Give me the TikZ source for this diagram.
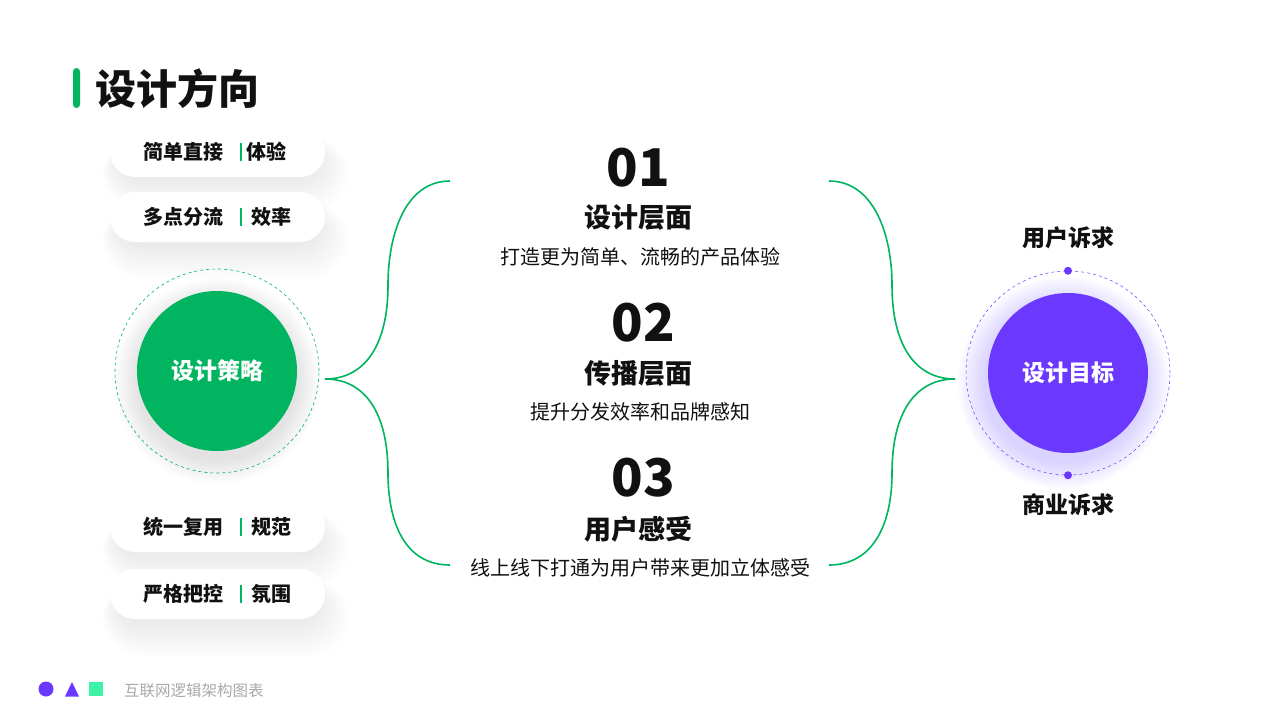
\documentclass[tikz,border=0pt]{standalone}
\usepackage{fontspec}
\setmainfont{Noto Sans CJK SC}
\newfontfamily\heavy{Noto Sans CJK SC Black}
\usetikzlibrary{positioning}
\definecolor{brand}{HTML}{00B460}
\definecolor{violet}{HTML}{6A38FF}
\definecolor{mint}{HTML}{3DF2A6}
\definecolor{ink}{HTML}{111111}
\definecolor{haze}{HTML}{A9C7B8}
\definecolor{footgray}{HTML}{AAAAAA}

\tikzset{
  pill/.style={fill=white,rounded corners=25pt,minimum width=215pt,minimum height=50pt,inner sep=0pt},
  pilltext/.style={font=\bfseries\fontsize{20}{20}\selectfont,text=ink,inner sep=0pt},
  core/.style={circle,minimum size=160pt,inner sep=0pt,text=white,font=\heavy\fontsize{23}{23}\selectfont},
  ring/.style={circle,minimum size=204pt,inner sep=0pt,draw,dashed,line width=.6pt},
  num/.style={font=\heavy\fontsize{52}{52}\selectfont,text=ink,inner sep=0pt},
  head/.style={font=\heavy\fontsize{27}{27}\selectfont,text=ink,inner sep=0pt},
  desc/.style={font=\fontsize{20}{20}\selectfont,text=ink,inner sep=0pt},
  brace/.style={brand,line width=1.6pt},
}

\begin{document}
\begin{tikzpicture}[x=1pt,y=-1pt]
  \useasboundingbox[fill=white] (0,0) rectangle (1280,720);

  % title
  \node[fill=brand,rounded corners=3.5pt,minimum width=7pt,minimum height=40pt,inner sep=0pt] (bar) at (76.5,88) {};
  \node[anchor=west,inner sep=0pt,font=\heavy\fontsize{41}{41}\selectfont,text=ink] (title) at (95,89) {设计方向};

  % soft shadows under the pills
  \foreach \ya/\yb in {134/172,199/238,509/548,576/616}
    \foreach \k in {1,...,20}
      \fill[haze,opacity=.012,rounded corners=24pt+\k*1pt] (118-\k*.8,\ya+6-\k*.2) rectangle (318+\k*1.6,\yb+6+\k*1.8);

  % pills
  \foreach \n/\y/\a/\b/\g in {p1/152/简单直接/体验/5,p2/217/多点分流/效率/10,p3/527/统一复用/规范/10,p4/594/严格把控/氛围/10}{
    \node[pill] (\n) at (217.5,\y) {};
    \node[pilltext] (\n a) at ([xshift=-34.5pt]\n.center) {\a};
    \draw[brand,line width=1.3pt] ([xshift=23.5pt,yshift=-9pt]\n.center) -- ([xshift=23.5pt,yshift=9pt]\n.center);
    \node[pilltext,anchor=west] (\n b) at ([xshift=23.5pt+\g pt]\n.center) {\b};
  }

  % strategy circle
  \foreach \k in {1,...,14}
    \fill[gray,opacity=.016] ([yshift=-10pt]217,371) circle (78+\k*1.8);
  \node[ring,draw=brand] (gring) at (217,371) {};
  \node[core,fill=brand] (gc) at (217,371) {设计策略};

  % goal circle
  \foreach \k in {1,...,14}
    \fill[violet,opacity=.014] ([xshift=-4pt,yshift=-10pt]1068,373) circle (78+\k*2);
  \node[ring,draw=violet,line width=.5pt] (pring) at (1068,373) {};
  \node[core,fill=violet] (pc) at (1068,373) {设计目标};
  \fill[violet] (pring.north) circle (4);
  \fill[violet] (pring.south) circle (4);
  \node[head,font=\heavy\fontsize{23}{23}\selectfont] (up) at (1068,238) {用户诉求};
  \node[head,font=\heavy\fontsize{23}{23}\selectfont] (down) at (1068,505) {商业诉求};

  % middle column
  \node[num] (n1) at (638,168) {01};
  \node[head] (h1) at (638,217) {设计层面};
  \node[desc] (d1) at (640,257) {打造更为简单、流畅的产品体验};
  \node[num] (n2) at (643,323) {02};
  \node[head] (h2) at (638,373) {传播层面};
  \node[desc] (d2) at (640,412) {提升分发效率和品牌感知};
  \node[num] (n3) at (643,478) {03};
  \node[head] (h3) at (638,529) {用户感受};
  \node[desc] (d3) at (640,568) {线上线下打通为用户带来更加立体感受};

  % braces
  \coordinate (lt) at (325,379);
  \coordinate (la) at (450,181);
  \coordinate (lb) at (450,565);
  \coordinate (rt) at (955,379);
  \coordinate (ra) at (829,181);
  \coordinate (rb) at (829,565);
  \draw[brace] (la) .. controls (405,181) and (388,235) .. (388,285) .. controls (388,345) and (365,379) .. (lt);
  \draw[brace] (lb) .. controls (405,565) and (388,523) .. (388,473) .. controls (388,413) and (365,379) .. (lt);
  \draw[brace] (ra) .. controls (874,181) and (892,235) .. (892,285) .. controls (892,345) and (915,379) .. (rt);
  \draw[brace] (rb) .. controls (874,565) and (892,523) .. (892,473) .. controls (892,413) and (915,379) .. (rt);

  % footer
  \node[circle,fill=violet,minimum size=15pt,inner sep=0pt] (fdot) at (46,689) {};
  \fill[violet] (65,696.5) -- (72,682) -- (79,696.5) -- cycle;
  \node[fill=mint,minimum size=14pt,inner sep=0pt] (fsq) at (96,689) {};
  \node[anchor=west,inner sep=0pt,text=footgray,font=\fontsize{15.5}{15.5}\selectfont] (foot) at (124,691) {互联网逻辑架构图表};
\end{tikzpicture}
\end{document}
